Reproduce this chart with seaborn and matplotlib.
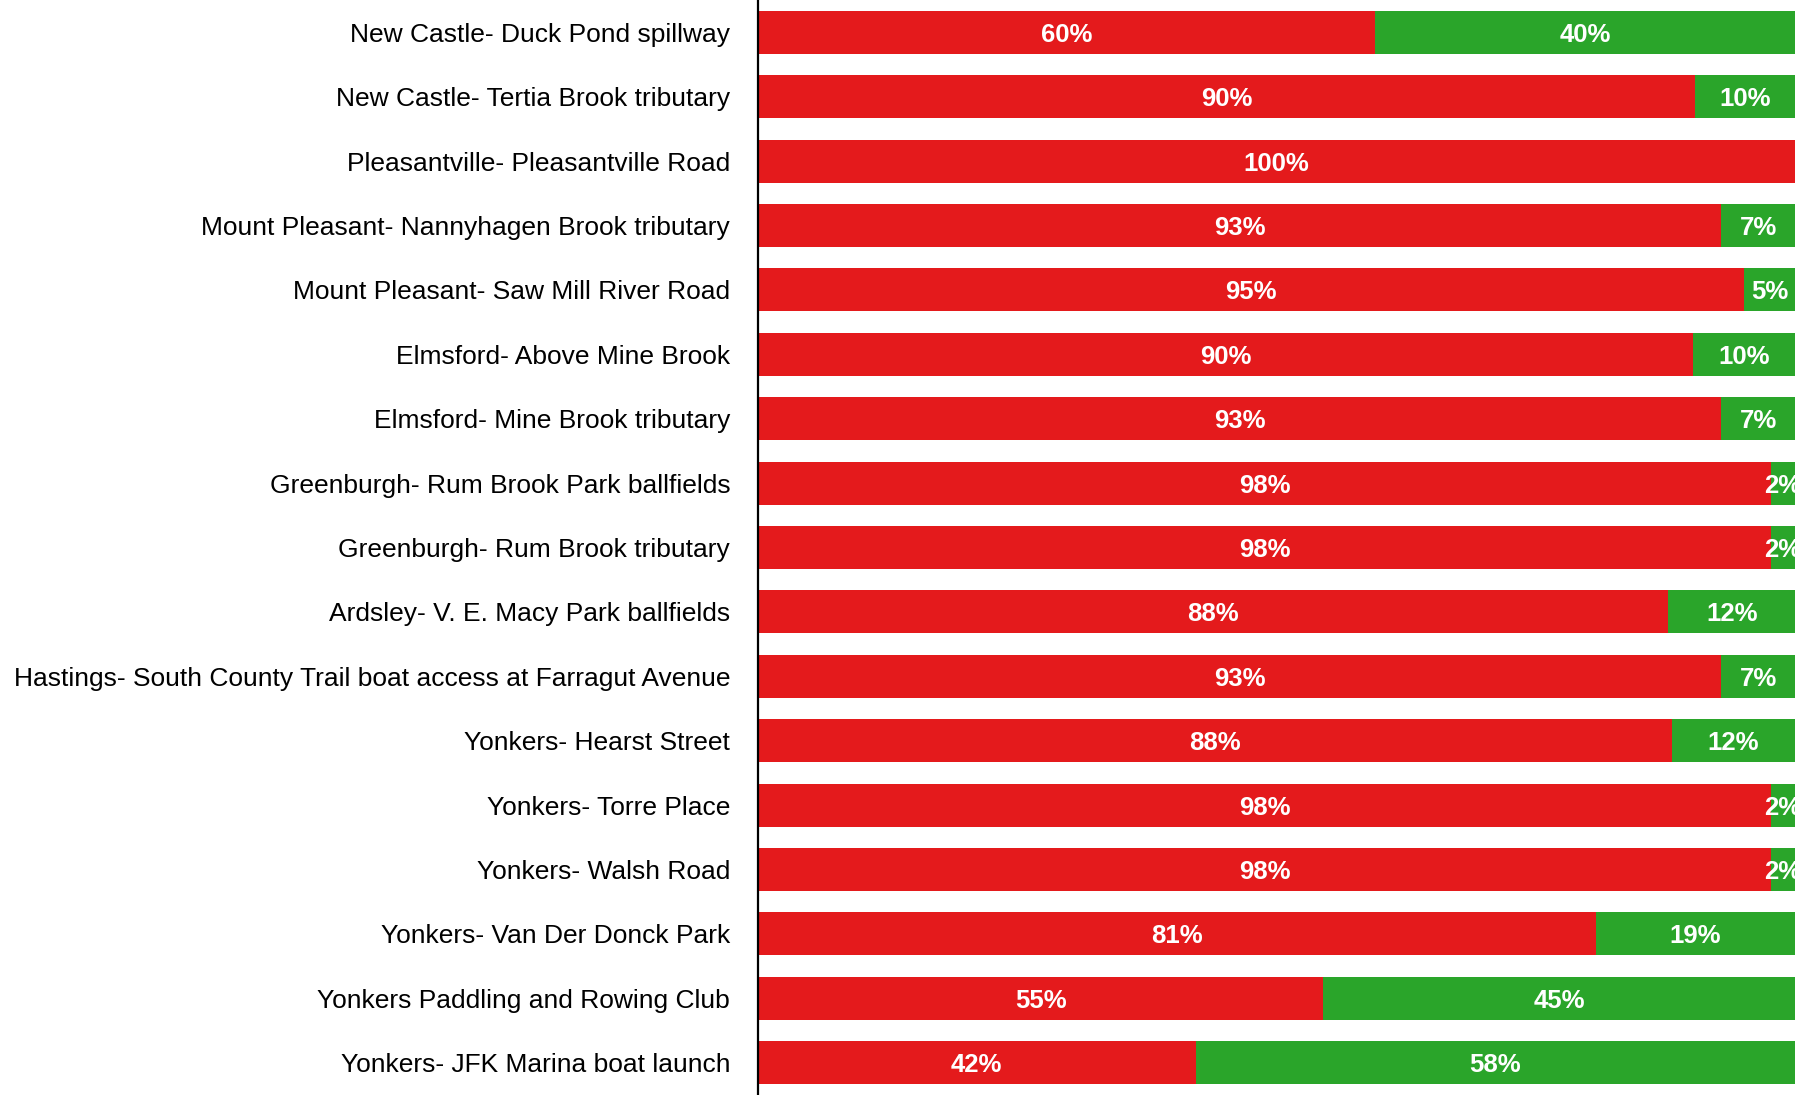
import matplotlib
matplotlib.use("Agg")
import pandas as pd
import matplotlib.pyplot as plt
import seaborn as sns

sites = [
    "New Castle- Duck Pond spillway",
    "New Castle- Tertia Brook tributary",
    "Pleasantville- Pleasantville Road",
    "Mount Pleasant- Nannyhagen Brook tributary",
    "Mount Pleasant- Saw Mill River Road",
    "Elmsford- Above Mine Brook",
    "Elmsford- Mine Brook tributary",
    "Greenburgh- Rum Brook Park ballfields",
    "Greenburgh- Rum Brook tributary",
    "Ardsley- V. E. Macy Park ballfields",
    "Hastings- South County Trail boat access at Farragut Avenue",
    "Yonkers- Hearst Street",
    "Yonkers- Torre Place",
    "Yonkers- Walsh Road",
    "Yonkers- Van Der Donck Park",
    "Yonkers Paddling and Rowing Club",
    "Yonkers- JFK Marina boat launch",
]
# share of samples (percent)
red_pct = [59.5, 90.4, 100, 92.9, 95.1, 90.2, 92.9, 97.7, 97.7, 87.8, 92.9, 88.1, 97.7, 97.7, 80.8, 54.5, 42.2]
green_pct = [40.5, 9.6, 0, 7.1, 4.9, 9.8, 7.1, 2.3, 2.3, 12.2, 7.1, 11.9, 2.3, 2.3, 19.2, 45.5, 57.8]
red_labels = [60, 90, 100, 93, 95, 90, 93, 98, 98, 88, 93, 88, 98, 98, 81, 55, 42]
green_labels = [40, 10, 0, 7, 5, 10, 7, 2, 2, 12, 7, 12, 2, 2, 19, 45, 58]

RED = "#E41A1C"
GREEN = "#2AA52A"

df = pd.DataFrame({"site": sites, "red": red_pct, "green": green_pct})
df["total"] = df["red"] + df["green"]

sns.set_style("white")
plt.rcParams["font.family"] = ["Liberation Sans", "DejaVu Sans"]

fig = plt.figure(figsize=(18.08, 10.95), dpi=100)
ax = fig.add_axes([0.4192, 0.0, 0.5736, 1.0])

sns.barplot(data=df, x="total", y="site", color=GREEN, width=0.667,
            saturation=1, ax=ax, linewidth=0)
sns.barplot(data=df, x="red", y="site", color=RED, width=0.667,
            saturation=1, ax=ax, linewidth=0)

for i, row in df.iterrows():
    if red_labels[i] > 0:
        ax.text(row["red"] / 2, i, f"{red_labels[i]}%", ha="center",
                va="center_baseline", color="white", fontsize=18.5, fontweight="bold")
    if green_labels[i] > 0:
        ax.text(row["red"] + row["green"] / 2, i, f"{green_labels[i]}%", ha="center",
                va="center_baseline", color="white", fontsize=18.5, fontweight="bold",
                clip_on=True)

ax.set_xlim(0, 100)
ax.set_ylim(16.5, -0.5)
ax.set_xlabel("")
ax.set_ylabel("")
ax.set_xticks([])
ax.tick_params(axis="y", length=0, pad=20, labelsize=19, labelcolor="black")
for s in ["top", "right", "bottom"]:
    ax.spines[s].set_visible(False)
ax.spines["left"].set_color("black")
ax.spines["left"].set_linewidth(1.6)

fig.savefig("out.png", dpi=100)
plt.close(fig)
